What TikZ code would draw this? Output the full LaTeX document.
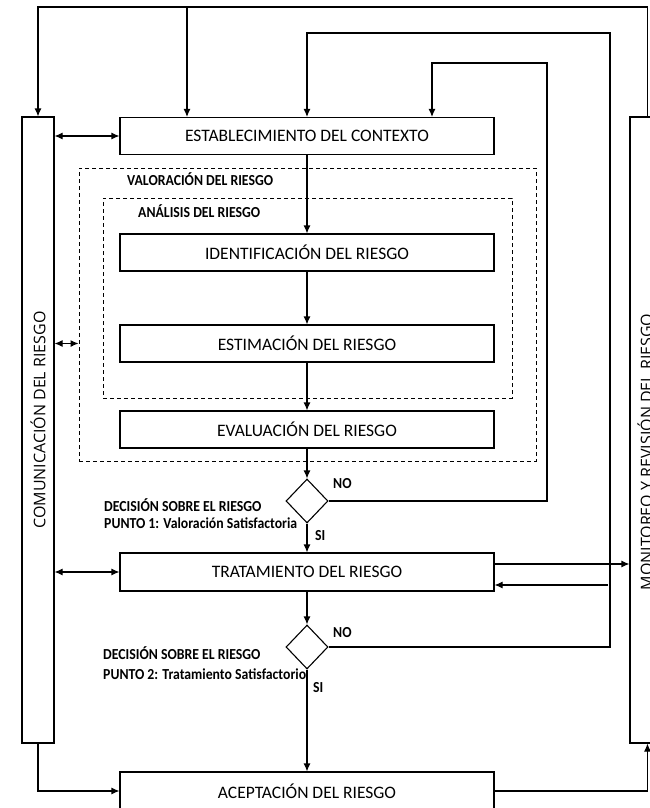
\documentclass[tikz,border=0pt]{standalone}
\usepackage{fontspec}
\setmainfont{Carlito}
\newfontfamily\lanefont{Open Sans}
\newfontfamily\tagfont[FakeStretch=0.9]{Carlito}
\usetikzlibrary{arrows.meta,shapes.geometric,positioning}

\tikzset{
  stage/.style={draw, line width=1.1pt, minimum width=374pt, minimum height=37pt, inner sep=0pt, font=\fontsize{17.5}{20}\selectfont},
  lane/.style={draw, line width=1.1pt, minimum width=32pt, minimum height=626pt, inner sep=0pt},
  lanetext/.style={rotate=90, inner sep=0pt, font=\lanefont\fontsize{16}{19}\selectfont},
  zone/.style={draw, dash pattern=on 4pt off 3pt, line width=0.9pt, inner sep=0pt},
  choice/.style={diamond, draw, line width=1.1pt, minimum width=42pt, minimum height=44pt, inner sep=0pt},
  tag/.style={inner sep=0pt, anchor=base west, font=\tagfont\bfseries\fontsize{15.3}{17}\selectfont},
  flow/.style={-{Latex[length=8pt,width=7pt]}, line width=1.1pt},
  twoway/.style={{Latex[length=8pt,width=7pt]}-{Latex[length=8pt,width=7pt]}, line width=1.1pt}
}

\begin{document}
\begin{tikzpicture}[x=1pt,y=-1pt]
\clip (0,0) rectangle (650,808);

\node[lane] (comm) at (38,430) {};
\node[lanetext] (commtxt) at (38,420) {COMUNICACIÓN DEL RIESGO};
\node[lane, minimum width=44pt] (mon) at (652,430) {};
\node[lanetext] (montxt) at (645,452) {MONITOREO Y REVISIÓN DEL RIESGO};

\node[zone, minimum width=457pt, minimum height=293pt] (val) at (307.5,314.5) {};
\node[zone, minimum width=409pt, minimum height=200pt] (ana) at (307.5,298) {};
\node[tag] (valtxt) at (127,185) {VALORACIÓN DEL RIESGO};
\node[tag] (anatxt) at (138,217) {ANÁLISIS DEL RIESGO};

\node[stage] (ctx) at (307,136) {ESTABLECIMIENTO DEL CONTEXTO};
\node[stage] (ident) at (307,252.5) {IDENTIFICACIÓN DEL RIESGO};
\node[stage] (estim) at (307,343.5) {ESTIMACIÓN DEL RIESGO};
\node[stage] (evalr) at (307,429.5) {EVALUACIÓN DEL RIESGO};
\node[choice] (d1) at (307,501) {};
\node[stage, minimum height=38pt] (trat) at (307,572) {TRATAMIENTO DEL RIESGO};
\node[choice] (d2) at (307,647) {};
\node[stage, minimum height=38pt] (acep) at (307,791) {ACEPTACIÓN DEL RIESGO};

\node[tag] (dec1) at (104,511.5) {DECISIÓN SOBRE EL RIESGO};
\node[tag] (pto1) at (104,528.5) {PUNTO 1: Valoración Satisfactoria};
\node[tag] (no1) at (333,488) {NO};
\node[tag] (si1) at (315,540) {SI};
\node[tag] (dec2) at (103,659.5) {DECISIÓN SOBRE EL RIESGO};
\node[tag] (pto2) at (103,679.5) {PUNTO 2: Tratamiento Satisfactorio};
\node[tag] (no2) at (333,637) {NO};
\node[tag] (si2) at (313,692) {SI};

\draw[flow] (ctx) -- (ident);
\draw[flow] (ident) -- (estim);
\draw[flow] (estim) -- (evalr);
\draw[flow] (evalr) -- (d1);
\draw[flow] (d1) -- (trat);
\draw[flow] (trat) -- (d2);
\draw[flow] (d2) -- (acep);

\coordinate (tl) at (38,7);
\coordinate (tj) at (187,7);
\coordinate (r2) at (610,33);
\coordinate (r1) at (547,63);
\coordinate (back) at (608,585);
\draw[flow] ([xshift=18pt]mon.north west) |- (tl) -- (comm.north);
\draw[flow] (tj) -- (tj |- ctx.north);
\draw[flow] (d2.east) -| (r2) -| (ctx.north);
\draw[flow] (d1.east) -| (r1) -| ([xshift=125pt]ctx.north);

\draw[twoway] (comm.east |- ctx.west) -- (ctx.west);
\draw[twoway] (comm.east |- estim) -- (val.west |- estim);
\draw[twoway] (comm.east |- trat.west) -- (trat.west);
\draw[flow] ([yshift=8pt]trat.east) -- ([yshift=8pt]trat.east -| mon.west);
\draw[flow] (back) -- (back -| trat.east);

\draw[flow] (comm.south) |- (acep.west);
\draw[flow] (acep.east) -| ([xshift=18pt]mon.south west);
\end{tikzpicture}
\end{document}
